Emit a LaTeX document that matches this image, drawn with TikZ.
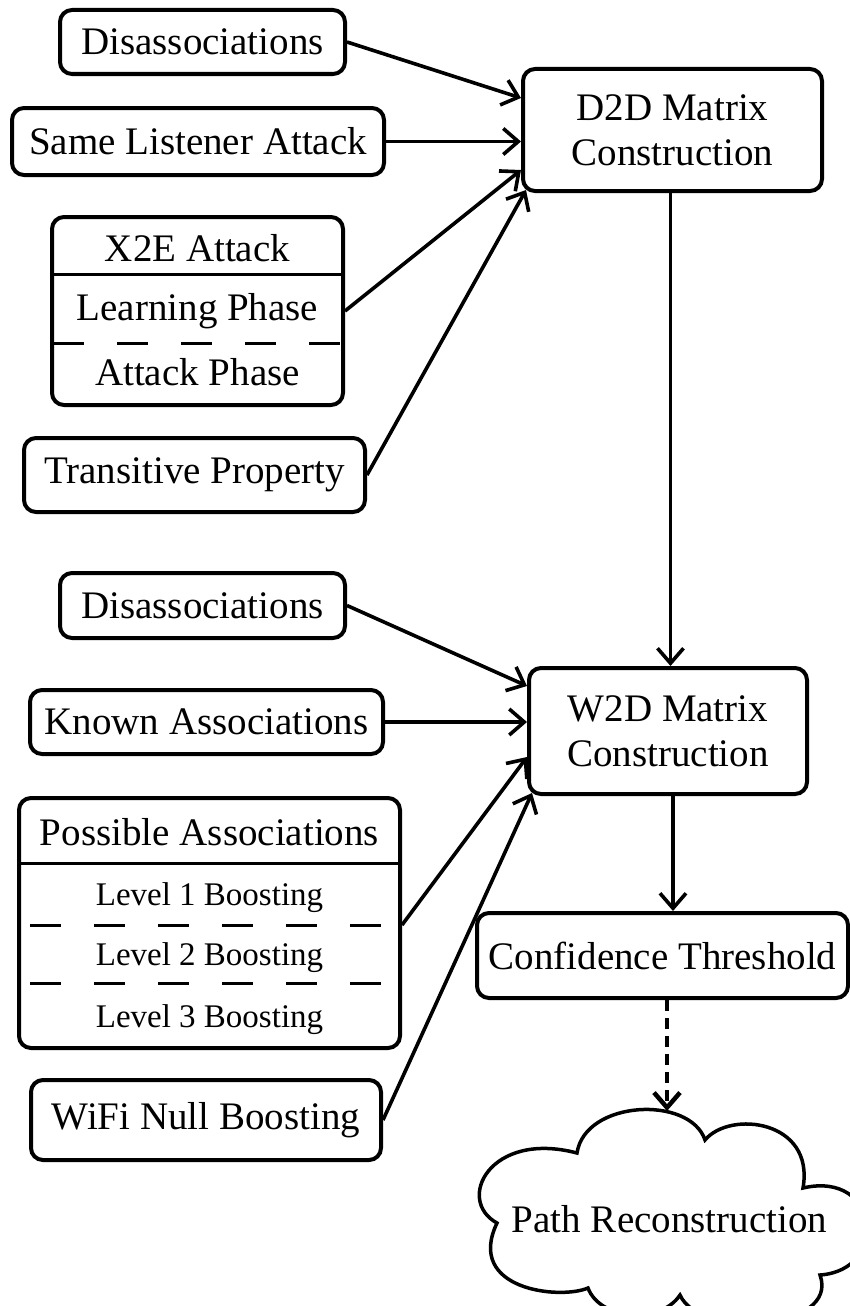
\documentclass[tikz,border=0pt]{standalone}
\usepackage{fontspec}
\setmainfont{Liberation Serif}
\usetikzlibrary{arrows.meta,calc}
\begin{document}
\begin{tikzpicture}[x=1pt,y=-1pt,
  box/.style={draw, line width=4pt, rounded corners=12pt, inner sep=0pt, align=center, font=\fontsize{39}{45}\selectfont},
  lbl/.style={inner sep=0pt, anchor=base, font=\fontsize{39}{45}\selectfont},
  smalllbl/.style={inner sep=0pt, anchor=base, font=\fontsize{33}{38}\selectfont},
  arr/.style={line width=3.6pt, -{Straight Barb[length=15pt,width=26pt]}},
  sep/.style={line width=3pt},
  dsep/.style={line width=3pt, dash pattern=on 31pt off 33pt}]
\useasboundingbox (0,0) rectangle (850,1306);

% upper group
\node[box, minimum width=285pt, minimum height=64pt] (dis1) at (202.5,42) {Disassociations};
\node[box, minimum width=372pt, minimum height=67pt] (sla) at (198,141.5) {Same Listener Attack};
\node[box, minimum width=291pt, minimum height=188pt] (x2e) at (197.5,311) {};
\node[lbl] (x2ea) at (197.5,261) {X2E Attack};
\node[lbl] (x2eb) at (197.5,320) {Learning Phase};
\node[lbl] (x2ec) at (197.5,385) {Attack Phase};
\draw[sep] (52,274) -- (343,274);
\draw[dsep] (53,343) -- (342,343);
\node[box, minimum width=341pt, minimum height=74pt] (tp) at (194.5,475) {Transitive Property};
\node[box, minimum width=299pt, minimum height=122pt] (d2d) at (672.5,130) {D2D Matrix\\Construction};

% lower group
\node[box, minimum width=285pt, minimum height=65pt] (dis2) at (202.5,605.5) {Disassociations};
\node[box, minimum width=353pt, minimum height=64pt] (ka) at (206.5,722) {Known Associations};
\node[box, minimum width=381pt, minimum height=250pt] (pa) at (209.5,923) {};
\node[lbl] (paa) at (209.5,845) {Possible Associations};
\node[smalllbl] (pab) at (209.5,905) {Level 1 Boosting};
\node[smalllbl] (pac) at (209.5,965) {Level 2 Boosting};
\node[smalllbl] (pad) at (209.5,1027) {Level 3 Boosting};
\draw[sep] (19,863) -- (400,863);
\draw[dsep] (30,925) -- (383,925);
\draw[dsep] (30,983) -- (383,983);
\node[box, minimum width=350pt, minimum height=80pt] (wifi) at (206,1120) {WiFi Null Boosting};
\node[box, minimum width=278pt, minimum height=126pt] (w2d) at (668,731) {W2D Matrix\\Construction};
\node[box, minimum width=371pt, minimum height=85pt] (ct) at (662.5,955.5) {Confidence Threshold};

% cloud
\draw[line width=3.5pt, line join=miter]
  (577,1153) .. controls (585,1100) and (690,1095) .. (705,1140)
  .. controls (730,1110) and (815,1120) .. (803,1188)
  .. controls (880,1170) and (890,1270) .. (820,1275)
  .. controls (840,1330) and (700,1340) .. (680,1295)
  .. controls (660,1325) and (600,1320) .. (588,1288)
  .. controls (560,1300) and (465,1290) .. (497,1223)
  .. controls (455,1200) and (490,1130) .. cycle;
\node[lbl] (cloud) at (669.5,1232) {Path Reconstruction};
\coordinate (cloudtop) at (667,1111);

% connectors to D2D
\draw[arr] (dis1.east) -- ([yshift=32pt]d2d.west);
\draw[arr] (sla.east) -- (d2d.west |- sla.east);
\draw[arr] (x2e.east) -- ([yshift=-40pt]d2d.west);
\draw[arr] (tp.east) -- ([xshift=5pt,yshift=3pt]d2d.south west);
% connectors to W2D
\draw[arr] (dis2.east) -- ([yshift=45pt]w2d.west);
\draw[arr] (ka.east) -- (w2d.west |- ka.east);
\draw[arr] ([yshift=-2pt]pa.east) -- ([yshift=-26pt]w2d.west);
\draw[arr] (wifi.east) -- ([xshift=5pt,yshift=3pt]w2d.south west);
% main chain
\draw[arr] ([xshift=-2pt]d2d.south) -- ([xshift=-2pt]d2d.south |- w2d.north);
\draw[arr] ([xshift=5pt]w2d.south) -- ([xshift=5pt]w2d.south |- ct.north);
\draw[arr, line width=4.5pt, dash pattern=on 11pt off 7pt] (ct.south -| cloudtop) -- (cloudtop);
\end{tikzpicture}
\end{document}
